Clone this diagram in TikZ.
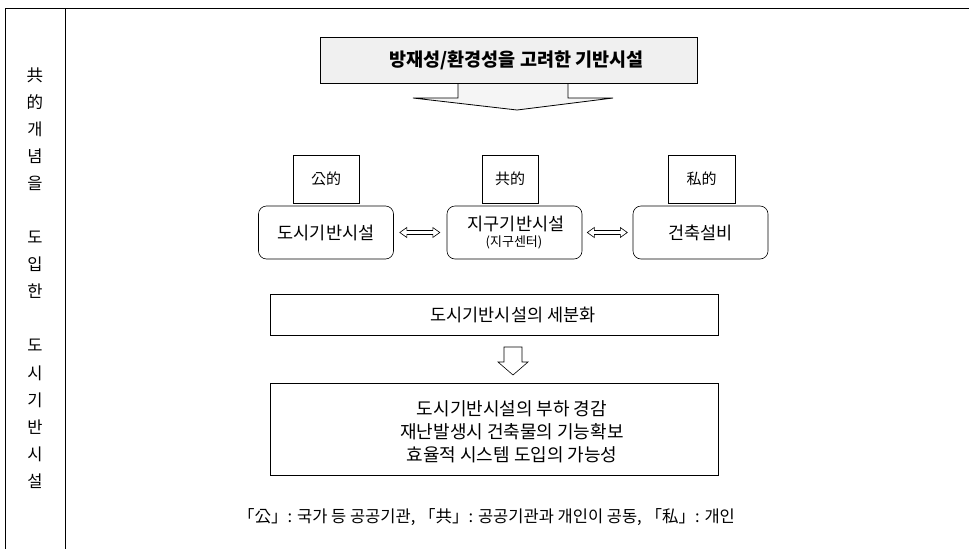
\documentclass[tikz,border=0pt]{standalone}
\usepackage{fontspec}
\setmainfont{Noto Sans CJK KR}
\tikzset{
  frame/.style={line width=1pt, black},
  graybox/.style={draw, line width=0.8pt, fill=gray!12, minimum width=377pt, minimum height=46pt, inner sep=0pt},
  catbox/.style={draw, line width=0.6pt, minimum height=48pt, inner sep=0pt, font=\fontsize{15}{17}\selectfont},
  roundbox/.style={draw, line width=0.6pt, rounded corners=8pt, minimum width=135pt, minimum height=53pt, inner sep=0pt, align=center},
  widebox/.style={draw, line width=0.7pt, minimum width=448pt, inner sep=0pt, align=center},
  hollow/.style={draw, line width=0.6pt, fill=white},
  bodytxt/.style={font=\fontsize{17.5}{20}\selectfont}
}
\begin{document}
\begin{tikzpicture}[x=1pt,y=-1pt]
\useasboundingbox (0,0) rectangle (969,549);
% frame
\coordinate (tl) at (5,8);
\coordinate (tr) at (969,8);
\coordinate (bl) at (5,549);
\coordinate (st) at (65,8);
\coordinate (sb) at (65,549);
\draw[frame] (tr) -- (tl) -- (bl);
\draw[frame] (st) -- (sb);
% left column text
\node[font=\fontsize{16.5}{27.07}\selectfont, align=center, inner sep=0pt] (side) at (35,278)
 {共\\的\\개\\념\\을\\[27.07pt]도\\입\\한\\[27.07pt]도\\시\\기\\반\\시\\설};
% header block arrow
\draw[hollow, fill=gray!8, line width=0.8pt] (458,83) -- (458,98) -- (413,98) -- (517,110) -- (613,98) -- (568,98) -- (568,83);
\node[graybox] (head) at (508.5,60) {};
\node[font=\fontsize{18.5}{20}\selectfont\bfseries, inner sep=0pt] (headtxt) at (516.5,60) {방재성/환경성을 고려한 기반시설};
% category boxes
\node[catbox, minimum width=66pt] (pub) at (326,179) {公的};
\node[catbox, minimum width=56pt] (com) at (510,179) {共的};
\node[catbox, minimum width=67pt] (pri) at (701.5,179) {私的};
% rounded boxes
\node[roundbox, bodytxt] (urban) at (326,232.5) {도시기반시설};
\node[roundbox] (dist) at (514.5,232.5) {};
\node[font=\fontsize{17.5}{20}\selectfont, inner sep=0pt] (disttxt) at (516,224) {지구기반시설};
\node[font=\fontsize{13}{15}\selectfont, inner sep=0pt] (distsub) at (514,242) {(지구센터)};
\node[roundbox, bodytxt] (bldg) at (700.5,232.5) {건축설비};
% double arrows
\draw[hollow] ([xshift=6pt]urban.east) -- ++(7,-5) -- ++(0,3) -- ++(26,0) -- ++(0,-3) -- ++(7,5) -- ++(-7,5) -- ++(0,-3) -- ++(-26,0) -- ++(0,3) -- cycle;
\draw[hollow] ([xshift=5pt]dist.east) -- ++(7,-5) -- ++(0,3) -- ++(26,0) -- ++(0,-3) -- ++(7,5) -- ++(-7,5) -- ++(0,-3) -- ++(-26,0) -- ++(0,3) -- cycle;
% lower boxes
\node[widebox, minimum height=41pt] (sub) at (494,314.5) {};
\node[bodytxt, inner sep=0pt] (subtxt) at (513,314.5) {도시기반시설의 세분화};
\node[widebox, minimum height=92pt] (eff) at (494,429) {};
\node[font=\fontsize{18}{23}\selectfont, align=center, inner sep=0pt] (efftxt) at (512,432)
 {도시기반시설의 부하 경감\\재난발생시 건축물의 기능확보\\효율적 시스템 도입의 가능성};
% down arrow
\draw[hollow] (504,347) -- (504,362) -- (498,362) -- (513,375) -- (528,362) -- (522,362) -- (522,347) -- cycle;
% footnote
\node[font=\fontsize{16.5}{19}\selectfont, inner sep=0pt] (note) at (486.5,517)
 {「公」: 국가 등 공공기관, 「共」: 공공기관과 개인이 공동, 「私」: 개인};
\end{tikzpicture}
\end{document}
